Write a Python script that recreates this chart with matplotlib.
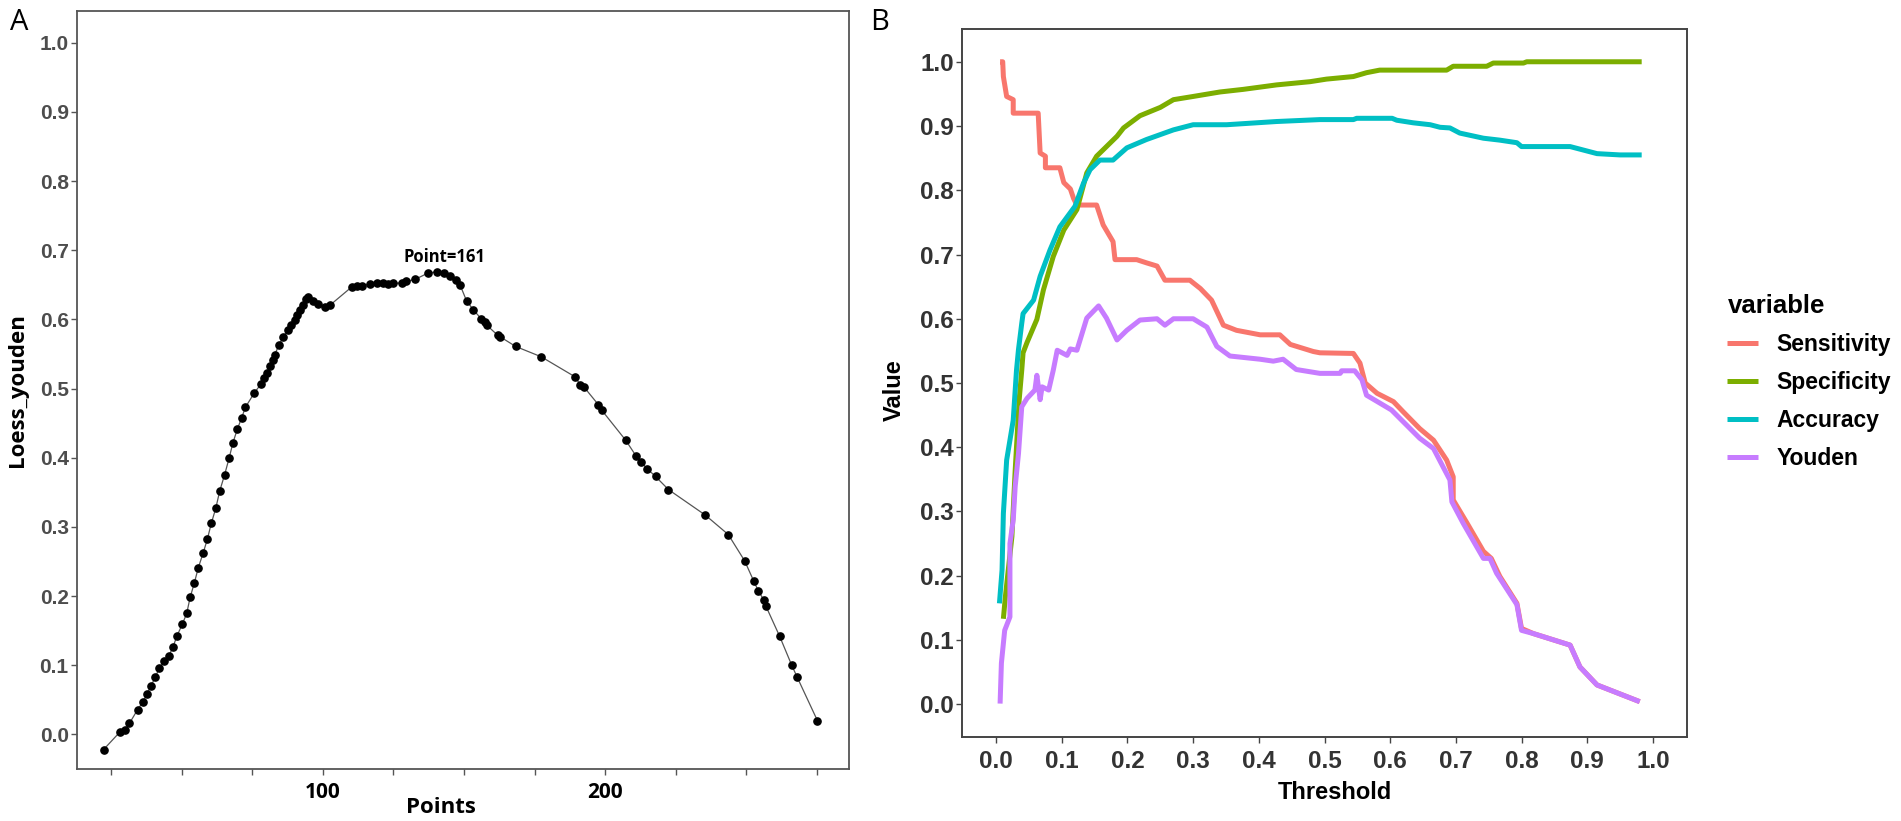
import matplotlib
matplotlib.use('Agg')
import matplotlib.pyplot as plt

plt.rcParams['font.family'] = ['Liberation Sans', 'DejaVu Sans']

# ---- panel A: loess smoothed youden index ----
points_x = [22.2, 27.9, 29.8, 31.4, 34.3, 36.2, 37.7, 39.0, 40.6, 42.0, 43.8, 45.3,
            46.8, 48.2, 50.1, 51.7, 52.9, 54.4, 55.8, 57.5, 59.0, 60.4, 62.0, 63.4,
            65.1, 66.7, 68.1, 69.7, 71.2, 72.5, 75.7, 78.1, 79.2, 80.2, 81.3, 82.4,
            82.9, 84.4, 86.0, 87.6, 88.7, 90.0, 90.8, 91.9, 92.8, 93.9, 94.7, 96.3,
            98.2, 100.7, 102.6, 110.2, 112.1, 114.0, 116.6, 119.3, 121.3, 123.2, 124.8,
            128.0, 129.6, 132.7, 137.2, 140.6, 143.0, 145.1, 147.3, 148.6, 150.9, 153.3,
            156.1, 157.3, 158.0, 162.0, 162.8, 168.3, 177.4, 189.4, 191.3, 192.6, 197.6,
            198.8, 207.4, 211.1, 212.7, 215.0, 217.9, 222.5, 235.6, 243.7, 249.5, 252.7,
            254.3, 256.2, 257.1, 261.9, 266.2, 268.1, 275.3]
loess_youden = [-0.022, 0.003, 0.007, 0.016, 0.036, 0.047, 0.059, 0.070, 0.083, 0.096, 0.106, 0.113,
                0.126, 0.142, 0.159, 0.175, 0.198, 0.219, 0.241, 0.262, 0.282, 0.305, 0.327, 0.352,
                0.375, 0.399, 0.422, 0.442, 0.458, 0.473, 0.494, 0.507, 0.515, 0.522, 0.533, 0.541,
                0.549, 0.563, 0.575, 0.585, 0.592, 0.599, 0.606, 0.614, 0.621, 0.630, 0.633, 0.626,
                0.623, 0.618, 0.621, 0.647, 0.648, 0.649, 0.651, 0.652, 0.653, 0.651, 0.652,
                0.653, 0.655, 0.658, 0.667, 0.669, 0.667, 0.663, 0.657, 0.650, 0.627, 0.614,
                0.601, 0.597, 0.592, 0.577, 0.575, 0.561, 0.546, 0.517, 0.505, 0.502, 0.477,
                0.469, 0.425, 0.402, 0.394, 0.384, 0.373, 0.354, 0.317, 0.289, 0.251, 0.222,
                0.208, 0.195, 0.185, 0.142, 0.100, 0.083, 0.020]
peak_label = 'Point=161'
a_xticks = [25, 50, 75, 100, 125, 150, 175, 200, 225, 250, 275]
a_xticklabels = ['', '', '', '100', '', '', '', '200', '', '', '']
a_yticks = [0.0, 0.1, 0.2, 0.3, 0.4, 0.5, 0.6, 0.7, 0.8, 0.9, 1.0]

# ---- panel B: metrics versus threshold ----
sens_x = [0.006, 0.010, 0.011, 0.016, 0.026, 0.026, 0.064, 0.067, 0.075, 0.075, 0.097, 0.103,
          0.113, 0.118, 0.123, 0.153, 0.163, 0.178, 0.181, 0.214, 0.229, 0.245, 0.257, 0.295,
          0.311, 0.328, 0.346, 0.366, 0.402, 0.432, 0.448, 0.483, 0.493, 0.544, 0.554, 0.562,
          0.580, 0.605, 0.620, 0.645, 0.666, 0.686, 0.696, 0.696, 0.717, 0.742, 0.754, 0.767,
          0.793, 0.800, 0.818, 0.874, 0.889, 0.915, 0.980]
sens_y = [1.0, 1.0, 0.977, 0.946, 0.941, 0.920, 0.920, 0.858, 0.853, 0.835, 0.835, 0.812,
          0.802, 0.787, 0.777, 0.777, 0.746, 0.720, 0.692, 0.692, 0.687, 0.682, 0.660, 0.660,
          0.647, 0.629, 0.590, 0.582, 0.575, 0.575, 0.560, 0.549, 0.547, 0.546, 0.531, 0.500,
          0.484, 0.471, 0.455, 0.429, 0.411, 0.380, 0.354, 0.318, 0.282, 0.238, 0.227, 0.199,
          0.157, 0.118, 0.110, 0.092, 0.058, 0.030, 0.004]

spec_x = [0.011, 0.014, 0.024, 0.029, 0.035, 0.039, 0.041, 0.047, 0.062, 0.072, 0.087, 0.103,
          0.123, 0.138, 0.153, 0.168, 0.184, 0.194, 0.219, 0.250, 0.270, 0.300, 0.341, 0.376,
          0.427, 0.478, 0.503, 0.544, 0.564, 0.584, 0.686, 0.696, 0.747, 0.757, 0.803, 0.808,
          0.983]
spec_y = [0.133, 0.167, 0.261, 0.364, 0.473, 0.520, 0.547, 0.563, 0.599, 0.645, 0.697, 0.738,
          0.770, 0.827, 0.853, 0.868, 0.884, 0.897, 0.916, 0.929, 0.941, 0.946, 0.953, 0.957,
          0.964, 0.969, 0.973, 0.977, 0.983, 0.987, 0.987, 0.993, 0.993, 0.998, 0.998, 1.0,
          1.0]

acc_x = [0.005, 0.009, 0.011, 0.016, 0.026, 0.031, 0.034, 0.039, 0.041, 0.057, 0.067, 0.082,
         0.097, 0.120, 0.133, 0.143, 0.158, 0.178, 0.199, 0.229, 0.270, 0.300, 0.351, 0.427,
         0.493, 0.544, 0.549, 0.603, 0.610, 0.635, 0.661, 0.676, 0.691, 0.706, 0.742, 0.767,
         0.793, 0.800, 0.874, 0.915, 0.950, 0.983]
acc_y = [0.157, 0.209, 0.297, 0.380, 0.442, 0.520, 0.552, 0.593, 0.608, 0.629, 0.666, 0.707,
         0.743, 0.775, 0.811, 0.832, 0.847, 0.847, 0.866, 0.879, 0.894, 0.902, 0.902, 0.907,
         0.910, 0.910, 0.912, 0.912, 0.909, 0.905, 0.902, 0.898, 0.897, 0.889, 0.881, 0.878,
         0.874, 0.868, 0.868, 0.857, 0.855, 0.855]

youden_x = [0.006, 0.008, 0.013, 0.021, 0.021, 0.026, 0.029, 0.034, 0.039, 0.047, 0.059, 0.062,
            0.067, 0.070, 0.080, 0.087, 0.093, 0.108, 0.113, 0.123, 0.138, 0.156, 0.168, 0.184,
            0.199, 0.219, 0.245, 0.257, 0.270, 0.300, 0.321, 0.336, 0.356, 0.402, 0.422, 0.437,
            0.457, 0.493, 0.524, 0.526, 0.546, 0.557, 0.564, 0.602, 0.645, 0.666, 0.691, 0.694,
            0.711, 0.742, 0.752, 0.762, 0.793, 0.800, 0.818, 0.874, 0.889, 0.915, 0.980]
youden_y = [0.001, 0.064, 0.115, 0.136, 0.250, 0.287, 0.339, 0.390, 0.463, 0.476, 0.489, 0.512,
            0.474, 0.494, 0.489, 0.520, 0.551, 0.543, 0.553, 0.551, 0.601, 0.620, 0.601, 0.567,
            0.582, 0.598, 0.600, 0.590, 0.600, 0.600, 0.587, 0.557, 0.542, 0.537, 0.534, 0.537,
            0.521, 0.515, 0.515, 0.519, 0.519, 0.505, 0.481, 0.458, 0.414, 0.398, 0.349, 0.315,
            0.282, 0.227, 0.227, 0.204, 0.155, 0.115, 0.110, 0.092, 0.058, 0.030, 0.004]

series_names = ['Sensitivity', 'Specificity', 'Accuracy', 'Youden']
series_colors = ['#F8766D', '#7CAE00', '#00BFC4', '#C77CFF']
b_ticks = [0.0, 0.1, 0.2, 0.3, 0.4, 0.5, 0.6, 0.7, 0.8, 0.9, 1.0]

W, H = 1901, 821
fig = plt.figure(figsize=(W / 100, H / 100), dpi=100)

# panel A
axA = fig.add_axes([77 / W, 1 - 769 / H, (849 - 77) / W, (769 - 11) / H])
axA.plot(points_x, loess_youden, color='#555555', lw=0.9, zorder=2)
axA.plot(points_x, loess_youden, 'o', color='black', ms=5.2, zorder=3)
i_peak = loess_youden.index(max(loess_youden))
axA.text(points_x[i_peak] + 2.5, 0.690, peak_label, ha='center', va='center',
         fontsize=12, fontweight='bold', family=['Open Sans', 'DejaVu Sans'])
axA.set_xlim(12.8, 286.5)
axA.set_ylim(-0.05, 1.046)
axA.set_xticks(a_xticks)
axA.set_xticklabels(a_xticklabels, fontsize=15, fontweight='bold',
                    family=['Open Sans', 'DejaVu Sans'])
axA.set_yticks(a_yticks)
axA.set_yticklabels(['%.1f' % v for v in a_yticks], fontsize=15,
                    fontweight='bold', color='#4D4D4D')
axA.tick_params(axis='both', length=4, width=1, color='#555555', pad=2)
axA.tick_params(axis='x', pad=5)
for s in axA.spines.values():
    s.set_color('#555555')
    s.set_linewidth(1.3)
fig.text(18 / W, 1 - 390 / H, 'Loess_youden', rotation=90, ha='center', va='center',
         fontsize=16, fontweight='bold', family=['Open Sans', 'DejaVu Sans'])
fig.text(441 / W, 1 - 807 / H, 'Points', ha='center', va='center',
         fontsize=16, fontweight='bold', family=['Open Sans', 'DejaVu Sans'])
fig.text(19 / W, 1 - 23 / H, 'A', ha='center', va='center', fontsize=21,
         family=['Open Sans', 'DejaVu Sans'])

# panel B
axB = fig.add_axes([962 / W, 1 - 737 / H, (1687 - 962) / W, (737 - 29) / H])
for xs, ys, name, c in zip([sens_x, spec_x, acc_x, youden_x],
                           [sens_y, spec_y, acc_y, youden_y],
                           series_names, series_colors):
    axB.plot(xs, ys, color=c, lw=3.6, label=name, solid_capstyle='butt')
axB.set_xlim(-0.052, 1.052)
axB.set_ylim(-0.051, 1.051)
axB.set_xticks(b_ticks)
axB.set_yticks(b_ticks)
axB.set_xticklabels(['%.1f' % v for v in b_ticks], fontsize=17.5, fontweight='bold', color='#333333')
axB.set_yticklabels(['%.1f' % v for v in b_ticks], fontsize=17.5, fontweight='bold', color='#333333')
axB.tick_params(axis='both', length=4, width=1, color='#444444', pad=2)
axB.tick_params(axis='x', pad=5)
for s in axB.spines.values():
    s.set_color('#444444')
    s.set_linewidth(1.4)
fig.text(894 / W, 1 - 390 / H, 'Value', rotation=90, ha='center', va='center',
         fontsize=17, fontweight='bold')
fig.text(1335 / W, 1 - 792 / H, 'Threshold', ha='center', va='center',
         fontsize=17, fontweight='bold')
fig.text(880 / W, 1 - 23 / H, 'B', ha='center', va='center', fontsize=21,
         family=['Open Sans', 'DejaVu Sans'])

leg = fig.legend(*axB.get_legend_handles_labels(), loc='upper left',
                 bbox_to_anchor=(1716 / W, 1 - 283 / H), frameon=False,
                 borderpad=0, handlelength=1.35, handletextpad=0.8,
                 labelspacing=0.65, prop={'size': 16.5, 'weight': 'bold'},
                 title='variable', alignment='left')
leg.get_title().set_fontsize(18.5)
leg.get_title().set_fontweight('bold')

fig.savefig('out.png', dpi=100)
